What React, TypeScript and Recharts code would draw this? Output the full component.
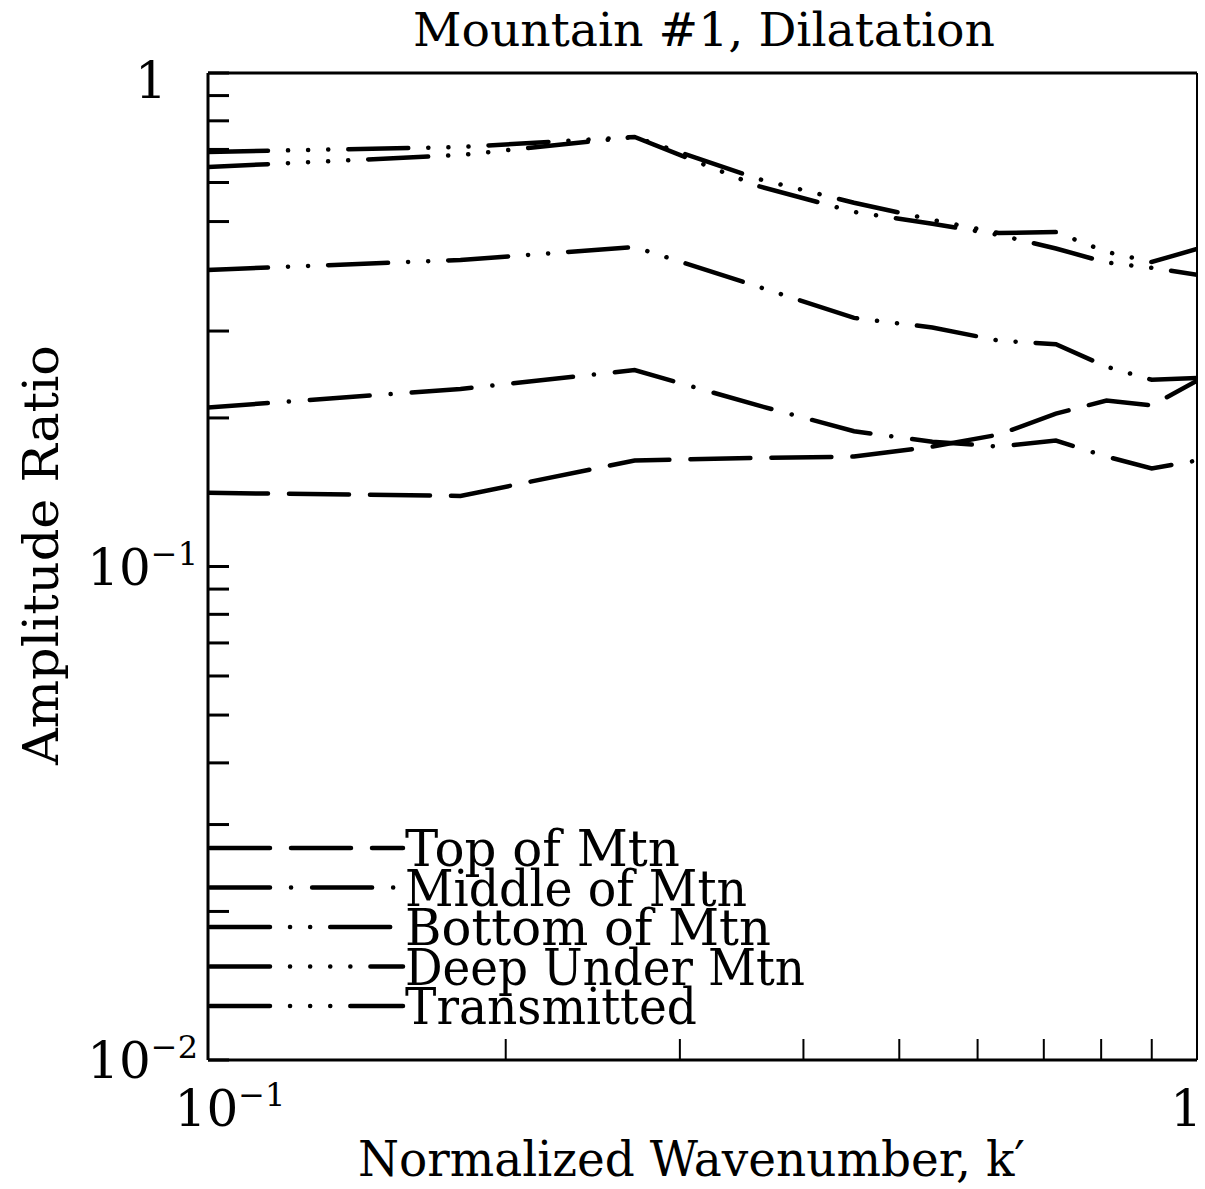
import React from 'react';
import {
    LineChart,
    Line,
    XAxis,
    YAxis,
    ReferenceLine,
    Legend,
    Customized,
} from 'recharts';

// normalized wavenumber k'
const kValues = [0.1, 0.18, 0.27, 0.36, 0.45, 0.54, 0.63, 0.72, 0.81, 0.9, 1.0];

// amplitude ratios
const topOfMtn = [0.141, 0.139, 0.164, 0.166, 0.167, 0.175, 0.185, 0.204, 0.217, 0.212, 0.238];
const middleOfMtn = [0.21, 0.229, 0.25, 0.212, 0.188, 0.179, 0.175, 0.18, 0.167, 0.158, 0.164];
const bottomOfMtn = [0.399, 0.418, 0.444, 0.369, 0.319, 0.305, 0.287, 0.282, 0.254, 0.239, 0.241];
const deepUnderMtn = [0.645, 0.682, 0.742, 0.61, 0.546, 0.504, 0.474, 0.476, 0.434, 0.414, 0.44];
const transmitted = [0.692, 0.708, 0.742, 0.59, 0.523, 0.495, 0.47, 0.441, 0.413, 0.403, 0.39];

const xTicks = [0.1, 0.2, 0.3, 0.4, 0.5, 0.6, 0.7, 0.8, 0.9, 1];
const yTicks = [
    0.01, 0.02, 0.03, 0.04, 0.05, 0.06, 0.07, 0.08, 0.09,
    0.1, 0.2, 0.3, 0.4, 0.5, 0.6, 0.7, 0.8, 0.9, 1,
];

const series = [
    {key: 'top', name: 'Top of Mtn', values: topOfMtn, dash: '60 21', len: 275},
    {key: 'middle', name: 'Middle of Mtn', values: middleOfMtn, dash: '60 21 0.1 21', len: 342},
    {key: 'bottom', name: 'Bottom of Mtn', values: bottomOfMtn, dash: '60 20 0.1 20 0.1 20', len: 366},
    {key: 'deep', name: 'Deep Under Mtn', values: deepUnderMtn, dash: '60 20 0.1 20 0.1 20 0.1 20 0.1 20', len: 400},
    {key: 'trans', name: 'Transmitted', values: transmitted, dash: '60 20 0.1 20 0.1 20 0.1 20', len: 292},
];

const data = kValues.map((k, i) => {
    const row: any = {k};
    series.forEach(s => {
        row[s.key] = s.values[i];
    });
    return row;
});

const FONT = '"DejaVu Serif", "Liberation Serif", serif';

const STxt = ({x, y, size, anchor = 'start', rotate = 0, len, children}: any) => (
    <text
        x={0}
        y={0}
        transform={`translate(${x},${y}) rotate(${rotate})`}
        fontFamily={FONT}
        fontSize={size}
        textAnchor={anchor}
        textLength={len}
        lengthAdjust={len ? 'spacingAndGlyphs' : undefined}
        fill="#000"
    >
        {children}
    </text>
);

const YTick = (props: any) => {
    const {x, y, payload} = props;
    const v = payload.value;
    const e = Math.round(Math.log10(v));
    const major = Math.abs(Math.log10(v) - e) < 1e-6;
    let label = null;
    if (v === 1) {
        label = <STxt x={151} y={y + 25} size={50} anchor="middle">1</STxt>;
    } else if (major) {
        label = (
            <STxt x={198} y={y + 18} size={50} anchor="end">
                10<tspan dy={-20} fontSize={32}>{'\u2212' + Math.abs(e)}</tspan>
            </STxt>
        );
    }
    return (
        <g>
            <line x1={x} x2={x + 21} y1={y} y2={y} stroke="#000" strokeWidth={3}/>
            {label}
        </g>
    );
};

const XTick = (props: any) => {
    const {x, y, payload} = props;
    const v = payload.value;
    let label = null;
    if (v === 1) {
        label = <STxt x={x + 5} y={y + 66} size={50} anchor="end">1</STxt>;
    } else if (v === 0.1) {
        label = (
            <STxt x={x + 22} y={y + 66} size={50} anchor="middle">
                10<tspan dy={-20} fontSize={32}>{'\u22121'}</tspan>
            </STxt>
        );
    }
    return (
        <g>
            <line x1={x} x2={x} y1={y} y2={y - 21} stroke="#000" strokeWidth={2}/>
            {label}
        </g>
    );
};

const renderLegend = () => (
    <svg width={850} height={240} style={{display: 'block'}}>
        {series.map((s, i) => {
            const y = 48 + i * 39.5;
            return (
                <g key={s.key}>
                    <line
                        x1={210}
                        x2={403}
                        y1={y}
                        y2={y}
                        stroke="#000"
                        strokeWidth={4.5}
                        strokeLinecap="round"
                        strokeDasharray={s.dash}
                    />
                    <STxt x={405} y={y + 18} size={50} len={s.len}>{s.name}</STxt>
                </g>
            );
        })}
    </svg>
);

const Titles = () => (
    <g>
        <STxt x={413} y={46} size={46} len={582}>Mountain #1, Dilatation</STxt>
        <STxt x={358} y={1176} size={48} len={667}>Normalized Wavenumber, k{'\u2032'}</STxt>
        <STxt x={58} y={765} size={48} rotate={-90} len={420}>Amplitude Ratio</STxt>
    </g>
);

export default function App() {
    return (
        <div style={{position: 'absolute', left: 0, top: 0, width: 1205, height: 1189, background: '#fff'}}>
            <LineChart
                width={1205}
                height={1189}
                data={data}
                margin={{top: 73, right: 8, left: 0, bottom: 0}}
            >
                <XAxis
                    dataKey="k"
                    type="number"
                    scale="log"
                    domain={[0.1, 1]}
                    allowDataOverflow
                    ticks={xTicks}
                    interval={0}
                    height={129}
                    tickSize={0}
                    tickMargin={0}
                    tickLine={false}
                    axisLine={{stroke: '#000', strokeWidth: 3}}
                    tick={<XTick/>}
                />
                <YAxis
                    type="number"
                    scale="log"
                    domain={[0.01, 1]}
                    allowDataOverflow
                    ticks={yTicks}
                    interval={0}
                    width={208}
                    tickSize={0}
                    tickMargin={0}
                    tickLine={false}
                    axisLine={{stroke: '#000', strokeWidth: 3}}
                    tick={<YTick/>}
                />
                <ReferenceLine y={1} stroke="#000" strokeWidth={3}/>
                <ReferenceLine x={1} stroke="#000" strokeWidth={2}/>
                {series.map(s => (
                    <Line
                        key={s.key}
                        dataKey={s.key}
                        name={s.name}
                        type="linear"
                        stroke="#000"
                        strokeWidth={4.5}
                        strokeLinecap="round"
                        strokeDasharray={s.dash}
                        dot={false}
                        activeDot={false}
                        isAnimationActive={false}
                    />
                ))}
                <Legend
                    content={renderLegend}
                    layout="horizontal"
                    verticalAlign="middle"
                    align="center"
                    wrapperStyle={{left: 0, top: 800, width: 850, height: 240}}
                />
                <Customized component={Titles}/>
            </LineChart>
        </div>
    );
}
